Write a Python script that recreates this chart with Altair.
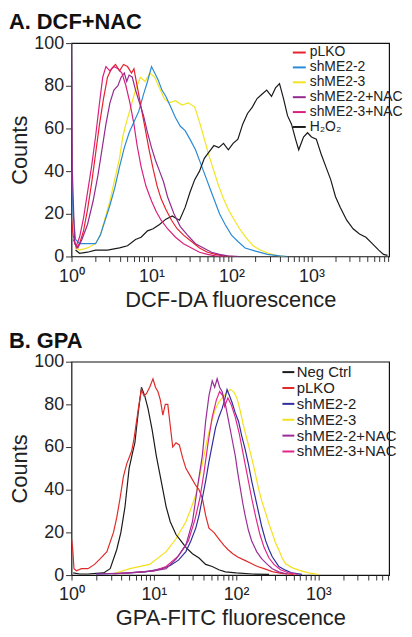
import altair as alt
import pandas as pd

# ---------------- Panel A: DCF+NAC (x given as log10 of fluorescence) ----------------
A_SERIES = ["pLKO", "shME2-2", "shME2-3", "shME2-2+NAC", "shME2-3+NAC", "H₂O₂"]
A_COLORS = ["#e8212e", "#2b8ad6", "#f2e41e", "#932a8f", "#d81f7e", "#1a1a1a"]

A_PLKO_LX = [0, 0.02, 0.06, 0.1, 0.15, 0.2, 0.25, 0.3, 0.35, 0.4, 0.45, 0.5, 0.55, 0.6, 0.65, 0.7, 0.75, 0.78,
             0.82, 0.87, 0.92, 0.97, 1.02, 1.07, 1.12, 1.18, 1.25, 1.32, 1.4, 1.5, 1.6, 1.7, 1.8, 1.9, 2.0]
A_PLKO_C = [18, 10, 4, 6, 12, 22, 34, 48, 62, 74, 84, 88, 90, 87, 90, 89, 86, 88,
            80, 70, 60, 50, 41, 33, 27, 22, 17, 13, 10, 7, 4, 2, 1, 0.3, 0]

A_SH22_LX = [0, 0.02, 0.05, 0.1, 0.2, 0.3, 0.36, 0.42, 0.48, 0.54, 0.6, 0.66, 0.72, 0.78, 0.84, 0.9, 0.95, 1.0,
             1.04, 1.08, 1.13, 1.18, 1.24, 1.3, 1.36, 1.42, 1.48, 1.55, 1.61, 1.67, 1.73, 1.79, 1.85, 1.92,
             2.0, 2.08, 2.17, 2.3, 2.45, 2.6, 2.7]
A_SH22_C = [40, 20, 8, 6, 6, 6, 10, 17, 24, 32, 42, 51, 58, 63, 68, 76, 82, 89,
            86, 83, 78, 75, 70, 65, 61, 59, 55, 50, 44, 38, 32, 26, 20, 15,
            10, 7, 4, 2.5, 1, 0.3, 0]

A_SH23_LX = [0.05, 0.1, 0.2, 0.3, 0.36, 0.42, 0.48, 0.54, 0.6, 0.64, 0.68, 0.74, 0.8, 0.86, 0.92, 0.98, 1.04,
             1.1, 1.16, 1.22, 1.3, 1.38, 1.46, 1.54, 1.6, 1.66, 1.72, 1.78, 1.84, 1.9, 1.96, 2.02, 2.1, 2.18,
             2.27, 2.36, 2.46, 2.56, 2.66]
A_SH23_C = [4, 3, 4, 6, 10, 18, 26, 36, 46, 56, 62, 70, 78, 84, 82, 86, 84,
            79, 74, 72, 73, 71, 72, 70, 63, 55, 47, 40, 33, 27, 22, 18, 13, 9,
            5, 3, 1.5, 0.5, 0]

A_SH22N_LX = [0, 0.01, 0.04, 0.08, 0.13, 0.2, 0.27, 0.33, 0.38, 0.43, 0.48, 0.53, 0.58, 0.62, 0.66, 0.69,
              0.72, 0.76, 0.8, 0.85, 0.9, 0.95, 1.0, 1.05, 1.1, 1.15, 1.2, 1.28, 1.36, 1.45, 1.55, 1.65,
              1.75, 1.85, 1.95, 2.1]
A_SH22N_C = [100, 40, 6, 4, 8, 15, 26, 38, 50, 62, 72, 78, 80, 84, 86, 82,
             85, 84, 78, 72, 66, 58, 51, 45, 40, 35, 28, 20, 14, 10, 6, 4,
             2, 1, 0.3, 0]

A_SH23N_LX = [0.02, 0.06, 0.1, 0.15, 0.2, 0.25, 0.3, 0.35, 0.39, 0.43, 0.48, 0.53, 0.58, 0.63, 0.68, 0.73,
              0.78, 0.82, 0.87, 0.93, 1.0, 1.06, 1.12, 1.2, 1.3, 1.4, 1.5, 1.6, 1.7, 1.8, 1.9]
A_SH23N_C = [8, 5, 9, 18, 30, 42, 56, 72, 84, 89, 87, 89, 88, 86, 80, 72,
             62, 52, 42, 33, 26, 21, 17, 13, 9, 6, 4, 2, 1, 0.3, 0]

A_H2O2_LX = [0.05, 0.1, 0.2, 0.3, 0.45, 0.6, 0.7, 0.8, 0.87, 0.95, 1.02, 1.1, 1.18, 1.26, 1.3, 1.35, 1.42,
             1.48, 1.54, 1.6, 1.66, 1.72, 1.78, 1.84, 1.9, 1.96, 2.02, 2.08, 2.14, 2.2, 2.26, 2.32, 2.38,
             2.44, 2.5, 2.55, 2.6, 2.65, 2.7, 2.75, 2.8, 2.84, 2.9, 2.95, 3.0, 3.06, 3.12, 3.18, 3.24,
             3.3, 3.36, 3.44, 3.52, 3.6, 3.68, 3.76, 3.84, 3.9, 3.95]
A_H2O2_C = [3, 1.5, 2, 3, 3, 4, 5, 8, 9, 12, 13, 15, 17.5, 19, 18, 17, 23,
            30, 36, 40, 46, 49, 52, 51, 53, 50, 53, 55, 62, 67, 70, 74, 76,
            78, 75, 79, 81, 74, 66, 62, 55, 50, 56, 58, 56, 55, 48, 42, 36,
            28, 23, 17, 13, 10.5, 9, 6, 3, 1, 0.5]

# ---------------- Panel B: GPA ----------------
B_SERIES = ["Neg Ctrl", "pLKO", "shME2-2", "shME2-3", "shME2-2+NAC", "shME2-3+NAC"]
B_COLORS = ["#1a1a1a", "#e02a2a", "#2e2e9e", "#f5e01c", "#9a2e96", "#e0268a"]

B_NEG_LX = [0.02, 0.1, 0.2, 0.3, 0.39, 0.47, 0.55, 0.6, 0.65, 0.7, 0.74, 0.77, 0.81, 0.85, 0.89, 0.93, 0.98,
            1.03, 1.07, 1.11, 1.15, 1.2, 1.27, 1.33, 1.39, 1.47, 1.55, 1.63, 1.71, 1.79, 1.87, 2.0, 2.2, 2.4]
B_NEG_C = [1, 0.5, 0.5, 0.8, 1, 3, 12, 20, 32, 50, 57, 62, 76, 88, 84, 78, 68,
           56, 48, 40, 32, 25, 19, 16, 13, 10, 8, 5, 4, 2.5, 1.5, 1, 0.5, 0.3]

B_PLKO_LX = [0, 0.015, 0.03, 0.06, 0.12, 0.2, 0.28, 0.35, 0.43, 0.51, 0.55, 0.59, 0.63, 0.67, 0.71, 0.73,
             0.76, 0.79, 0.82, 0.85, 0.88, 0.91, 0.95, 0.99, 1.02, 1.05, 1.08, 1.11, 1.14, 1.17, 1.2, 1.23,
             1.27, 1.31, 1.35, 1.39, 1.45, 1.51, 1.55, 1.59, 1.63, 1.67, 1.73, 1.79, 1.85, 1.9, 1.96,
             2.02, 2.1, 2.18, 2.26, 2.34, 2.44, 2.55, 2.7]
B_PLKO_C = [17, 12, 3, 2, 3, 3, 5, 7.7, 11, 20, 27, 36, 46, 52, 56, 58,
            64, 72, 80, 87, 84, 85, 88, 92, 88, 86, 82, 75, 80, 80, 70, 60,
            62, 61, 55, 50, 46, 42, 40, 36, 28, 22, 20, 17, 14, 12, 10,
            8.5, 7, 5.5, 4, 3, 1.6, 0.8, 0.3]

B_SH22_LX = [0.3, 0.6, 0.9, 1.1, 1.2, 1.3, 1.39, 1.45, 1.51, 1.55, 1.59, 1.63, 1.67, 1.71, 1.75, 1.79, 1.83,
             1.86, 1.89, 1.92, 1.95, 1.99, 2.03, 2.07, 2.11, 2.15, 2.19, 2.23, 2.27, 2.31, 2.36, 2.4, 2.44,
             2.52, 2.6, 2.68, 2.8]
B_SH22_C = [0.5, 0.8, 1.5, 3, 4.5, 7, 11, 16, 22, 28, 36, 44, 53, 61, 69, 74, 78,
            82, 87, 84, 81, 76, 72, 65, 59, 52, 44, 37, 30, 23, 16, 12, 8.6,
            4, 2.3, 1, 0.3]

B_SH23_LX = [0.5, 0.71, 0.95, 1.15, 1.27, 1.39, 1.45, 1.51, 1.55, 1.59, 1.63, 1.67, 1.71, 1.75, 1.79, 1.83,
             1.88, 1.93, 1.97, 2.01, 2.05, 2.09, 2.13, 2.17, 2.22, 2.27, 2.31, 2.36, 2.4, 2.44, 2.48, 2.52,
             2.56, 2.6, 2.68, 2.76, 2.88, 3.0]
B_SH23_C = [0.5, 3, 5, 11, 17, 25, 31, 37.5, 45, 52, 60, 67, 73, 78, 81, 83,
            85, 87, 86, 83, 77, 70, 64, 58, 50, 41, 35, 29, 24, 19.6, 15, 11.7,
            8, 5.4, 3.5, 2.3, 1, 0.3]

B_SH22N_LX = [0.3, 0.7, 1.0, 1.15, 1.27, 1.39, 1.47, 1.53, 1.59, 1.63, 1.67, 1.71, 1.74, 1.77, 1.8, 1.83,
              1.87, 1.91, 1.95, 1.99, 2.02, 2.05, 2.08, 2.11, 2.15, 2.19, 2.25, 2.31, 2.38, 2.44, 2.52, 2.62]
B_SH22N_C = [0.5, 1, 2, 3, 7.5, 14, 25, 41, 56, 72, 84, 91, 88, 92, 88, 86,
             80, 72, 64, 56, 48, 41, 34, 28, 21, 16, 11, 7.7, 5, 3, 1.5, 0.5]

B_SH23N_LX = [0.5, 1.0, 1.15, 1.3, 1.42, 1.5, 1.56, 1.61, 1.66, 1.71, 1.76, 1.8, 1.84, 1.86, 1.9, 1.94,
              1.99, 2.04, 2.09, 2.14, 2.19, 2.24, 2.29, 2.34, 2.4, 2.46, 2.54, 2.64, 2.75]
B_SH23N_C = [0.5, 2, 4, 9, 16, 26, 36, 48, 62, 74, 82, 86, 84, 79, 83, 80,
             74, 66, 56, 46, 36, 27, 19, 13, 8, 5, 2.5, 1, 0.3]

FONT = "Liberation Sans"


def frame(series_data):
    rows = []
    for name, lxs, cs in series_data:
        for i, (lx, c) in enumerate(zip(lxs, cs)):
            rows.append({"series": name, "x": 10 ** lx, "y": c, "i": i})
    return pd.DataFrame(rows)


A_DF = frame([
    ("shME2-3", A_SH23_LX, A_SH23_C),
    ("shME2-2", A_SH22_LX, A_SH22_C),
    ("H₂O₂", A_H2O2_LX, A_H2O2_C),
    ("pLKO", A_PLKO_LX, A_PLKO_C),
    ("shME2-2+NAC", A_SH22N_LX, A_SH22N_C),
    ("shME2-3+NAC", A_SH23N_LX, A_SH23N_C),
])

B_DF = frame([
    ("shME2-3", B_SH23_LX, B_SH23_C),
    ("Neg Ctrl", B_NEG_LX, B_NEG_C),
    ("pLKO", B_PLKO_LX, B_PLKO_C),
    ("shME2-2", B_SH22_LX, B_SH22_C),
    ("shME2-3+NAC", B_SH23N_LX, B_SH23N_C),
    ("shME2-2+NAC", B_SH22N_LX, B_SH22N_C),
])

LABEL_EXPR = ("datum.value == 1 ? '10⁰' : datum.value == 10 ? '10¹' : "
              "datum.value == 100 ? '10²' : datum.value == 1000 ? '10³' : ''")


def panel(df, series, colors, title, xtitle, xmax_log, legend_x, legend_y, legend_font, label_off, sym_size):
    tick_vals = [k * 10 ** d for d in range(4) for k in range(1, 10) if k * 10 ** d <= 10 ** xmax_log]
    x = alt.X("x:Q",
              scale=alt.Scale(type="log", domain=[1, 10 ** xmax_log], nice=False),
              axis=alt.Axis(values=tick_vals, labelExpr=LABEL_EXPR, title=xtitle, grid=False,
                            domain=False, tickSize=5, tickColor="#333333", labelFontSize=18,
                            labelFont=FONT, labelColor="#222222", labelPadding=6, labelFlush=False,
                            labelOverlap=False, titleFontSize=22, titleFont=FONT,
                            titleFontWeight="normal", titleColor="#222222", titlePadding=4))
    y = alt.Y("y:Q",
              scale=alt.Scale(domain=[0, 100], nice=False),
              axis=alt.Axis(values=[0, 20, 40, 60, 80, 100], title="Counts", grid=False, domain=False,
                            tickSize=6, tickColor="#333333", labelFontSize=18, labelFont=FONT,
                            labelColor="#222222", labelPadding=2, titleFontSize=22, titleFont=FONT,
                            titleFontWeight="normal", titleColor="#222222", titlePadding=2))
    color = alt.Color("series:N",
                      scale=alt.Scale(domain=series, range=colors),
                      legend=alt.Legend(title=None, orient="none", legendX=legend_x, legendY=legend_y,
                                        symbolType="stroke", symbolStrokeWidth=2, symbolSize=sym_size,
                                        labelFontSize=legend_font, labelFont=FONT, labelColor="#222222",
                                        rowPadding=0, labelOffset=label_off, padding=0, labelLimit=300))
    return alt.Chart(df).mark_line(strokeWidth=1.2, clip=True).encode(
        x=x, y=y, color=color, order="i:Q", detail="series:N"
    ).properties(
        width=320, height=215,
        title=alt.TitleParams(title, anchor="start", frame="bounds", fontSize=22, fontWeight="bold",
                              font=FONT, color="#111111", offset=0)
    )


chart_a = panel(A_DF, A_SERIES, A_COLORS, "A. DCF+NAC", "DCF-DA fluorescence", 3.97, 222, 2, 14, 3, 169)
chart_b = panel(B_DF, B_SERIES, B_COLORS, "B. GPA", "GPA-FITC fluorescence", 3.86, 211, 3, 15, 1, 144)

chart = alt.vconcat(chart_a, chart_b, spacing=18).resolve_scale(
    color="independent", x="independent"
).resolve_legend(color="independent").configure_view(
    stroke="#111111", strokeWidth=1.2
).properties(padding={"left": 0, "top": 0, "right": 0, "bottom": 0})

chart.save("out.html", embed_options={"renderer": "svg", "actions": False})
